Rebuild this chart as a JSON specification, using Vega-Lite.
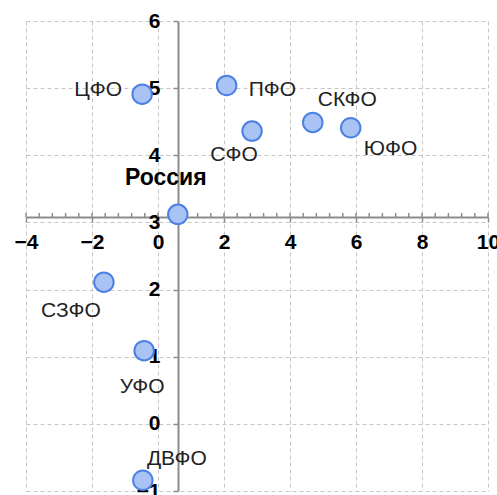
{
  "$schema": "https://vega.github.io/schema/vega-lite/v6.json",
  "width": 462,
  "height": 470,
  "autosize": "none",
  "padding": {"left": 26, "top": 21, "right": 9, "bottom": 4},
  "background": "white",
  "config": {"view": {"stroke": null}, "font": "Liberation Sans"},
  "datasets": {
    "regions": [
      {"name": "ЦФО", "x": -0.48, "y": 4.91},
      {"name": "ПФО", "x": 2.08, "y": 5.04},
      {"name": "СФО", "x": 2.85, "y": 4.36},
      {"name": "СКФО", "x": 4.69, "y": 4.49},
      {"name": "ЮФО", "x": 5.84, "y": 4.41},
      {"name": "СЗФО", "x": -1.64, "y": 2.11},
      {"name": "УФО", "x": -0.42, "y": 1.09},
      {"name": "ДВФО", "x": -0.46, "y": -0.84},
      {"name": "Россия", "x": 0.6, "y": 3.12}
    ],
    "axisticks": [
      {"x": -4}, {"x": -3.6}, {"x": -3.2}, {"x": -2.8}, {"x": -2.4}, {"x": -2}, {"x": -1.6}, {"x": -1.2}, {"x": -0.8}, {"x": -0.4},
      {"x": 0}, {"x": 0.4}, {"x": 0.8}, {"x": 1.2}, {"x": 1.6}, {"x": 2}, {"x": 2.4}, {"x": 2.8}, {"x": 3.2}, {"x": 3.6},
      {"x": 4}, {"x": 4.4}, {"x": 4.8}, {"x": 5.2}, {"x": 5.6}, {"x": 6}, {"x": 6.4}, {"x": 6.8}, {"x": 7.2}, {"x": 7.6},
      {"x": 8}, {"x": 8.4}, {"x": 8.8}, {"x": 9.2}, {"x": 9.6}, {"x": 10}
    ]
  },
  "layer": [
    {
      "data": {"name": "axisticks"},
      "mark": {"type": "rule", "stroke": "#8c8c8c", "strokeWidth": 1.5},
      "encoding": {
        "x": {
          "field": "x", "type": "quantitative",
          "scale": {"domain": [-4, 10], "nice": false, "zero": false},
          "axis": {
            "title": null, "orient": "bottom", "offset": -274, "format": "d",
            "values": [-4, -2, 0, 2, 4, 6, 8, 10],
            "grid": true, "gridDash": [4, 3], "gridColor": "#c6c6c6", "gridWidth": 1,
            "domainColor": "#8c8c8c", "domainWidth": 2,
            "tickColor": "#8c8c8c", "tickWidth": 1.5, "tickSize": 5,
            "labelFont": "Liberation Sans", "labelFontWeight": "bold", "labelFontSize": 21, "labelColor": "#000",
            "labelPadding": 9, "labelFlush": false, "labelOverlap": false
          }
        },
        "y": {
          "datum": 3.08, "type": "quantitative",
          "scale": {"domain": [-1, 6], "nice": false, "zero": false},
          "axis": {
            "title": null, "orient": "left", "offset": -152, "format": "d",
            "values": [-1, 0, 1, 2, 3, 4, 5, 6],
            "grid": true, "gridDash": [4, 3], "gridColor": "#c6c6c6", "gridWidth": 1,
            "domainColor": "#8c8c8c", "domainWidth": 2,
            "tickColor": "#8c8c8c", "tickWidth": 1.5, "tickSize": 5,
            "labelFont": "Liberation Sans", "labelFontWeight": "bold", "labelFontSize": 21, "labelColor": "#000",
            "labelPadding": 13, "labelFlush": false, "labelOverlap": false
          }
        },
        "y2": {"datum": 3.14}
      }
    },
    {
      "data": {"name": "regions"},
      "transform": [{"filter": "datum.name === 'ЦФО'"}],
      "mark": {"type": "text", "align": "right", "baseline": "middle", "dx": -20, "dy": -4, "fontSize": 21, "color": "#222"},
      "encoding": {"x": {"field": "x", "type": "quantitative"}, "y": {"field": "y", "type": "quantitative"}, "text": {"field": "name"}}
    },
    {
      "data": {"name": "regions"},
      "transform": [{"filter": "datum.name === 'ПФО'"}],
      "mark": {"type": "text", "align": "left", "baseline": "middle", "dx": 22, "dy": 5, "fontSize": 21, "color": "#222"},
      "encoding": {"x": {"field": "x", "type": "quantitative"}, "y": {"field": "y", "type": "quantitative"}, "text": {"field": "name"}}
    },
    {
      "data": {"name": "regions"},
      "transform": [{"filter": "datum.name === 'СФО'"}],
      "mark": {"type": "text", "align": "center", "baseline": "middle", "dx": -18, "dy": 24, "fontSize": 21, "color": "#222"},
      "encoding": {"x": {"field": "x", "type": "quantitative"}, "y": {"field": "y", "type": "quantitative"}, "text": {"field": "name"}}
    },
    {
      "data": {"name": "regions"},
      "transform": [{"filter": "datum.name === 'СКФО'"}],
      "mark": {"type": "text", "align": "left", "baseline": "middle", "dx": 5, "dy": -22, "fontSize": 21, "color": "#222"},
      "encoding": {"x": {"field": "x", "type": "quantitative"}, "y": {"field": "y", "type": "quantitative"}, "text": {"field": "name"}}
    },
    {
      "data": {"name": "regions"},
      "transform": [{"filter": "datum.name === 'ЮФО'"}],
      "mark": {"type": "text", "align": "left", "baseline": "middle", "dx": 13, "dy": 21, "fontSize": 21, "color": "#222"},
      "encoding": {"x": {"field": "x", "type": "quantitative"}, "y": {"field": "y", "type": "quantitative"}, "text": {"field": "name"}}
    },
    {
      "data": {"name": "regions"},
      "transform": [{"filter": "datum.name === 'СЗФО'"}],
      "mark": {"type": "text", "align": "center", "baseline": "middle", "dx": -33, "dy": 29, "fontSize": 21, "color": "#222"},
      "encoding": {"x": {"field": "x", "type": "quantitative"}, "y": {"field": "y", "type": "quantitative"}, "text": {"field": "name"}}
    },
    {
      "data": {"name": "regions"},
      "transform": [{"filter": "datum.name === 'УФО'"}],
      "mark": {"type": "text", "align": "center", "baseline": "middle", "dx": -2, "dy": 36, "fontSize": 21, "color": "#222"},
      "encoding": {"x": {"field": "x", "type": "quantitative"}, "y": {"field": "y", "type": "quantitative"}, "text": {"field": "name"}}
    },
    {
      "data": {"name": "regions"},
      "transform": [{"filter": "datum.name === 'ДВФО'"}],
      "mark": {"type": "text", "align": "center", "baseline": "middle", "dx": 34, "dy": -21, "fontSize": 21, "color": "#222"},
      "encoding": {"x": {"field": "x", "type": "quantitative"}, "y": {"field": "y", "type": "quantitative"}, "text": {"field": "name"}}
    },
    {
      "data": {"name": "regions"},
      "transform": [{"filter": "datum.name === 'Россия'"}],
      "mark": {"type": "text", "align": "center", "baseline": "middle", "dx": -12, "dy": -36, "fontSize": 23, "fontWeight": "bold", "color": "#000"},
      "encoding": {"x": {"field": "x", "type": "quantitative"}, "y": {"field": "y", "type": "quantitative"}, "text": {"field": "name"}}
    },
    {
      "data": {"name": "regions"},
      "mark": {"type": "circle", "size": 380, "fill": "#a9c4f4", "stroke": "#4d80e4", "strokeWidth": 2, "opacity": 1, "fillOpacity": 1},
      "encoding": {"x": {"field": "x", "type": "quantitative"}, "y": {"field": "y", "type": "quantitative"}}
    }
  ]
}
